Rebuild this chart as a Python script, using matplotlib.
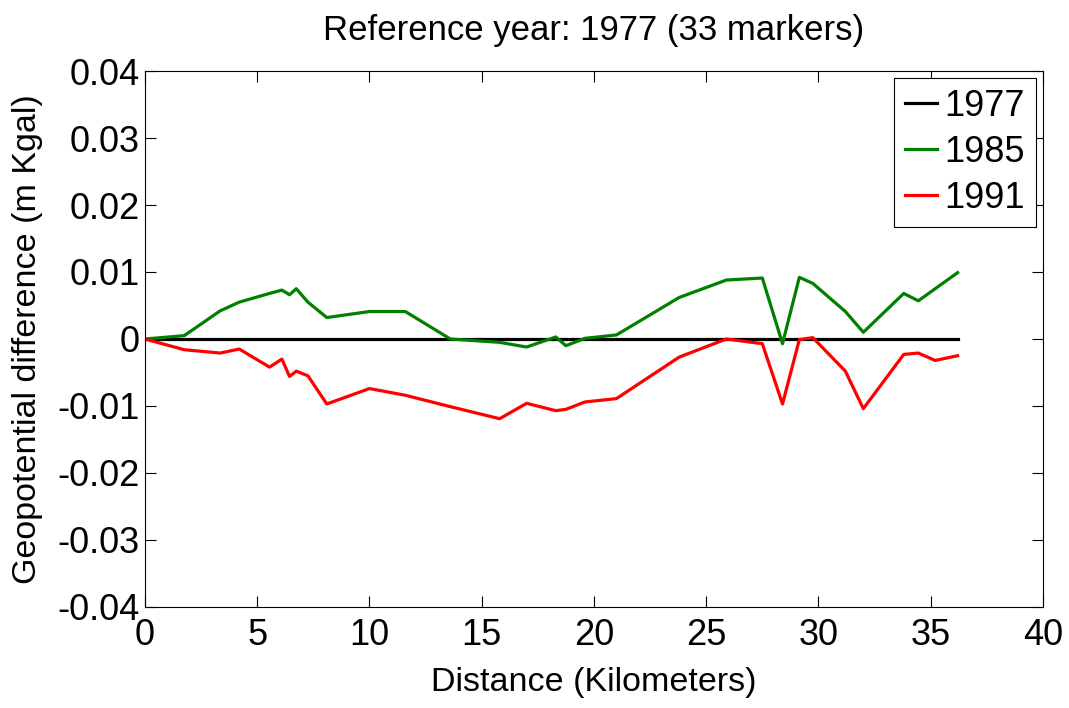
import numpy as np
import matplotlib
matplotlib.use("Agg")
import matplotlib.pyplot as plt
from matplotlib.ticker import FuncFormatter, MultipleLocator

plt.rcParams['font.family'] = ['Liberation Sans', 'DejaVu Sans']

# marker positions along the line (km)
distance = [0, 1.75, 3.35, 4.2, 5.55, 6.1, 6.44, 6.74, 7.26, 8.1, 10.0,
            11.6, 13.6, 15.8, 17.0, 18.3, 18.75, 19.6, 21.0, 23.8, 25.9,
            27.5, 28.4, 29.15, 29.75, 31.2, 32.0, 33.8, 34.45, 35.2, 36.2]

# geopotential differences relative to 1977 (m Kgal)
diff_1977 = [0.0] * len(distance)
diff_1985 = [0, 0.0005, 0.0042, 0.0055, 0.0068, 0.0073, 0.0066, 0.0075,
             0.0055, 0.0032, 0.0041, 0.0041, 0.0, -0.0005, -0.0012, 0.0003,
             -0.001, 0.0001, 0.0006, 0.0062, 0.0088, 0.0091, -0.0007,
             0.0092, 0.0083, 0.0041, 0.001, 0.0068, 0.0057, 0.0075, 0.0099]
diff_1991 = [0, -0.0016, -0.0021, -0.0015, -0.0042, -0.003, -0.0056,
             -0.0048, -0.0055, -0.0097, -0.0074, -0.0084, -0.0101, -0.0119,
             -0.0096, -0.0107, -0.0105, -0.0094, -0.0089, -0.0027, 0.0,
             -0.0007, -0.0097, -0.0001, 0.0002, -0.0048, -0.0104, -0.0023,
             -0.0021, -0.0032, -0.0025]

fig = plt.figure(figsize=(10.69, 7.08), dpi=100)
ax = fig.add_axes([0.1356, 0.1427, 0.84, 0.757])

ax.plot(distance, diff_1977, color='black', lw=2.3, label='1977')
ax.plot(distance, diff_1985, color=(0, 0.5, 0), lw=2.3, label='1985')
ax.plot(distance, diff_1991, color=(1, 0, 0), lw=2.3, label='1991')

ax.set_xlim(0, 40)
ax.set_ylim(-0.04, 0.04)
ax.xaxis.set_major_locator(MultipleLocator(5))
ax.yaxis.set_major_locator(MultipleLocator(0.01))
ax.yaxis.set_major_formatter(FuncFormatter(lambda v, p: '%g' % round(v, 4)))
ax.tick_params(direction='in', top=True, right=True, length=8, width=0.8,
               labelsize=26)
ax.tick_params(axis='x', pad=8)
ax.tick_params(axis='y', pad=4)
for s in ax.spines.values():
    s.set_linewidth(0.8)

ax.set_title('Reference year: 1977 (33 markers)', fontsize=25, pad=22)
ax.set_xlabel('Distance (Kilometers)', fontsize=24.5, labelpad=10)
ax.set_ylabel('Geopotential difference (m Kgal)', fontsize=24.5, labelpad=10)

leg = ax.legend(loc='upper right', fontsize=26, handlelength=0.9,
                handletextpad=0.2, borderpad=0.3, labelspacing=0.3,
                fancybox=False, framealpha=1, edgecolor='black',
                borderaxespad=0.2)
leg.get_frame().set_linewidth(0.8)

fig.savefig('out.png', dpi=100, facecolor='white')
